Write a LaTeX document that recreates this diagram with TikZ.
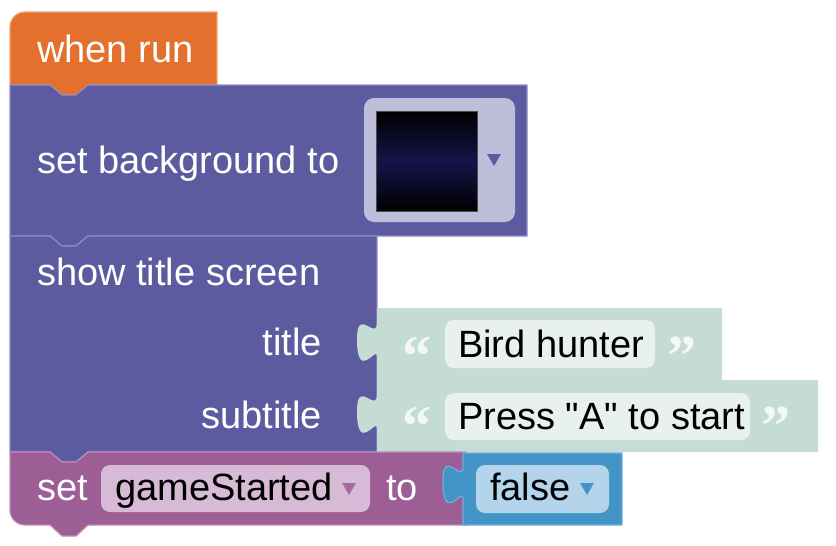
\documentclass[tikz,border=0pt]{standalone}
\usepackage{fontspec}
\setmainfont{Liberation Sans}[Ligatures=TeXOff]
\newfontfamily\qfont{Liberation Serif}
\definecolor{evorange}{HTML}{E3702D}
\definecolor{evorangeb}{HTML}{F0A26E}
\definecolor{scpurple}{HTML}{5C5B9F}
\definecolor{scpurpleb}{HTML}{8D8CC4}
\definecolor{ddlav}{HTML}{BEBDDA}
\definecolor{imgnavy}{HTML}{15144A}
\definecolor{strgreen}{HTML}{C4DCD4}
\definecolor{strfield}{HTML}{E8F1EE}
\definecolor{varmag}{HTML}{9C5E94}
\definecolor{varmagb}{HTML}{C08CBA}
\definecolor{varfield}{HTML}{D7BBD6}
\definecolor{vartri}{HTML}{A56C9E}
\definecolor{logblue}{HTML}{4394C7}
\definecolor{logblueb}{HTML}{6CB0DC}
\definecolor{logfield}{HTML}{B3D4EA}
\begin{document}
\begin{tikzpicture}[x=1pt,y=-1pt,
  wtxt/.style={text=white, font=\fontsize{38}{44}\selectfont, inner sep=0pt, anchor=base west},
  btxt/.style={text=black, font=\fontsize{38}{44}\selectfont, inner sep=0pt, anchor=base west},
  rtxt/.style={text=white, font=\fontsize{38}{44}\selectfont, inner sep=0pt, anchor=base east},
  qmark/.style={text=white, text opacity=0.8, font=\qfont\bfseries\fontsize{58}{60}\selectfont, inner sep=0pt, anchor=base west},
  fieldbox/.style={rounded corners=9pt, inner sep=0pt}
]
\useasboundingbox (0,0) rectangle (836,546);

% ---- when run (orange hat block)
\draw[fill=evorange, draw=evorangeb, line width=1.2pt]
  (10,85) -- (10,27) .. controls (10,18.7) and (16.7,12) .. (25,12)
  -- (217,12) -- (217,85) -- (88,85) -- (76,95) -- (62,95) -- (50,85) -- cycle;
\node[wtxt] (whenrun) at (37,62) {when run};

% ---- set background to
\draw[fill=scpurple, draw=scpurpleb, line width=1.2pt]
  (10,85) -- (50,85) -- (62,95) -- (76,95) -- (88,85) -- (527,85) -- (527,236)
  -- (88,236) -- (76,246) -- (62,246) -- (50,236) -- (10,236) -- cycle;
\node[wtxt] (setbg) at (37,173) {set background to};
\fill[ddlav, rounded corners=10pt] (364,98) rectangle (515,222);
\shade[top color=black, bottom color=black, middle color=imgnavy] (376,111) rectangle (477,211);
\draw[gray!60!black, line width=0.6pt] (376,111) rectangle (477,211);
\fill[scpurple] (487,154) -- (501,154) -- (494,166) -- cycle;

% ---- show title screen
\draw[fill=scpurple, draw=scpurpleb, line width=1.2pt]
  (10,236) -- (50,236) -- (62,246) -- (76,246) -- (88,236) -- (377,236) -- (377,452)
  -- (88,452) -- (76,462) -- (62,462) -- (50,452) -- (10,452) -- cycle;
\node[wtxt] (showts) at (37,285) {show title screen};
\node[rtxt] (ltitle) at (322,355) {title};
\node[rtxt] (lsub) at (322,428) {subtitle};

% ---- string blocks
\fill[strgreen]
  (377,308) -- (722,308) -- (722,380) -- (377,380) -- (377,356)
  .. controls (377,345) and (357,383) .. (357,339)
  .. controls (357,305) and (377,343) .. (377,322) -- cycle;
\fill[strgreen]
  (377,380) -- (818,380) -- (818,452) -- (377,452) -- (377,428)
  .. controls (377,417) and (357,455) .. (357,411)
  .. controls (357,377) and (377,415) .. (377,394) -- cycle;
\fill[strfield, fieldbox] (445,320) rectangle (655,368);
\fill[strfield, fieldbox] (445,393) rectangle (750,440);
\node[qmark] (q1l) at (402,375) {\textquotedblleft};
\node[qmark] (q1r) at (667,375) {\textquotedblright};
\node[qmark] (q2l) at (402,445) {\textquotedblleft};
\node[qmark] (q2r) at (761,445) {\textquotedblright};
\node[btxt] (bird) at (458,357) {Bird hunter};
\node[btxt] (press) at (458,429) {Press "A" to start};

% ---- set variable block
\draw[fill=varmag, draw=varmagb, line width=1.2pt]
  (10,452) -- (50,452) -- (62,462) -- (76,462) -- (88,452) -- (466,452) -- (466,525)
  -- (88,525) -- (76,536) -- (62,536) -- (50,525) -- (25,525)
  .. controls (16.7,525) and (10,518.3) .. (10,510) -- cycle;
\node[wtxt] (setw) at (37,500) {set};
\fill[varfield, fieldbox] (101,465) rectangle (370,512);
\node[btxt] (var) at (115,500) {gameStarted};
\fill[vartri] (342,483) -- (356,483) -- (349,495) -- cycle;
\node[wtxt] (tow) at (386,500) {to};

% ---- false block
\draw[fill=logblue, draw=logblueb, line width=1.2pt]
  (463,453) -- (622,453) -- (622,525) -- (463,525) -- (463,498)
  .. controls (463,487) and (443,525) .. (443,481)
  .. controls (443,447) and (463,485) .. (463,466) -- cycle;
\fill[logfield, fieldbox] (476,465) rectangle (609,513);
\node[btxt] (falsew) at (490,500) {false};
\fill[logblue] (580,483) -- (594,483) -- (587,495) -- cycle;
\end{tikzpicture}
\end{document}
